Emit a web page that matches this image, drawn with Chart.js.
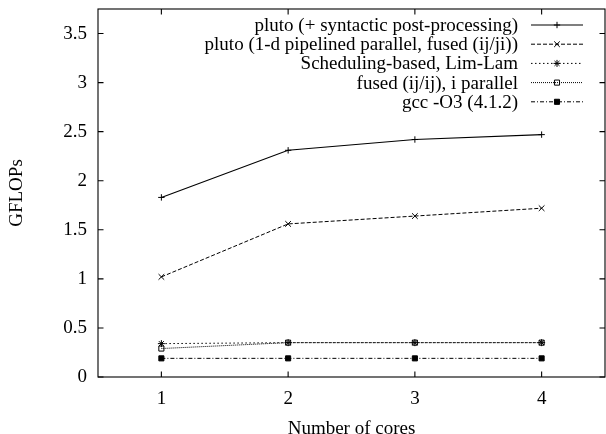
<!DOCTYPE html>
<html>
<head>
<meta charset="utf-8">
<script src="https://cdn.jsdelivr.net/npm/chart.js@4/dist/chart.umd.min.js"></script>
<style>
  html, body { margin: 0; padding: 0; background: #fff; }
  #wrap { width: 606px; height: 434px; }
</style>
</head>
<body>
<div id="wrap"><canvas id="c" width="606" height="434"></canvas></div>
<script>
// ---- data ----
const cores = ['1', '2', '3', '4'];
const seriesNames = [
  'pluto (+ syntactic post-processing)',
  'pluto (1-d pipelined parallel, fused (ij/ji))',
  'Scheduling-based, Lim-Lam',
  'fused (ij/ij), i parallel',
  'gcc -O3 (4.1.2)'
];
const plutoSyntactic = [1.83, 2.31, 2.42, 2.47];
const pluto1d = [1.02, 1.56, 1.64, 1.72];
const limLam = [0.34, 0.35, 0.35, 0.35];
const fusedIParallel = [0.29, 0.35, 0.35, 0.35];
const gccO3 = [0.19, 0.19, 0.19, 0.19];
const yTicks = [0, 0.5, 1, 1.5, 2, 2.5, 3, 3.5];
const yMin = 0, yMax = 3.75;
const xTitle = 'Number of cores';
const yTitle = 'GFLOPs';

const FONT = 'Liberation Serif, Times New Roman, serif';
Chart.defaults.color = '#000';
Chart.defaults.font.family = FONT;

const styles = [
  { dash: [], style: 'cross', r: 3.2, fill: 'rgba(0,0,0,0)', w: 1.1 },
  { dash: [4, 2], style: 'crossRot', r: 4, fill: 'rgba(0,0,0,0)', w: 1 },
  { dash: [1.5, 2.5], style: 'star', r: 3.5, fill: 'rgba(0,0,0,0)', w: 1 },
  { dash: [1, 1], style: 'rect', r: 3.6, fill: 'rgba(0,0,0,0)', w: 1 },
  { dash: [4, 2, 1, 2], style: 'rect', r: 3.6, fill: '#000', w: 1 }
];
const values = [plutoSyntactic, pluto1d, limLam, fusedIParallel, gccO3];

const datasets = values.map((v, i) => ({
  label: seriesNames[i],
  data: v,
  borderColor: '#000',
  backgroundColor: styles[i].fill,
  borderWidth: styles[i].w,
  borderDash: styles[i].dash,
  pointStyle: styles[i].style,
  pointRadius: styles[i].r,
  pointHoverRadius: styles[i].r,
  pointBorderColor: '#000',
  pointBackgroundColor: styles[i].fill,
  pointBorderWidth: 1,
  tension: 0,
  fill: false,
  clip: false
}));

function noPad(scale) {
  scale.paddingTop = 0; scale.paddingBottom = 0;
  scale.paddingLeft = 0; scale.paddingRight = 0;
}

const framePlugin = {
  id: 'frame',
  afterDraw(chart) {
    const { ctx, chartArea: a, scales } = chart;
    ctx.save();
    ctx.strokeStyle = '#000';
    ctx.lineWidth = 1.1;
    ctx.setLineDash([]);
    ctx.strokeRect(a.left, a.top, a.right - a.left, a.bottom - a.top);
    const tl = 5.5;
    ctx.beginPath();
    scales.x.ticks.forEach((t, i) => {
      const x = scales.x.getPixelForTick(i);
      ctx.moveTo(x, a.bottom); ctx.lineTo(x, a.bottom - tl);
      ctx.moveTo(x, a.top); ctx.lineTo(x, a.top + tl);
    });
    scales.y.ticks.forEach((t) => {
      const y = scales.y.getPixelForValue(t.value);
      ctx.moveTo(a.left, y); ctx.lineTo(a.left + tl, y);
      ctx.moveTo(a.right, y); ctx.lineTo(a.right - tl, y);
    });
    ctx.stroke();

    // legend (gnuplot style: text right aligned, sample on the right)
    ctx.font = '19px ' + FONT;
    ctx.textAlign = 'right';
    ctx.textBaseline = 'middle';
    ctx.fillStyle = '#000';
    chart.data.datasets.forEach((ds, i) => {
      const y = a.top + 16 + i * 19.2;
      ctx.fillText(ds.label, a.right - 87, y + 1);
      ctx.save();
      ctx.beginPath();
      ctx.lineWidth = ds.borderWidth;
      ctx.setLineDash(ds.borderDash);
      ctx.moveTo(a.right - 74, y);
      ctx.lineTo(a.right - 22, y);
      ctx.stroke();
      ctx.setLineDash([]);
      ctx.fillStyle = ds.pointBackgroundColor;
      ctx.strokeStyle = '#000';
      ctx.lineWidth = 1;
      Chart.helpers.drawPoint(ctx, {
        pointStyle: ds.pointStyle, radius: ds.pointRadius, rotation: 0, borderWidth: 1
      }, a.right - 48, y);
      ctx.restore();
    });
    ctx.restore();
  }
};

new Chart(document.getElementById('c'), {
  type: 'line',
  data: { labels: cores, datasets },
  options: {
    responsive: false,
    animation: false,
    devicePixelRatio: 1,
    layout: { autoPadding: false, padding: { left: 0, right: 1, top: 9, bottom: 0 } },
    plugins: { legend: { display: false }, tooltip: { enabled: false } },
    scales: {
      x: {
        type: 'category',
        offset: true,
        grid: { display: false, drawTicks: false },
        border: { display: false },
        ticks: { font: { size: 19, family: FONT }, padding: 11, color: '#000' },
        title: { display: true, text: xTitle, font: { size: 19, family: FONT, lineHeight: 0.5 }, padding: { top: 0, bottom: 0 }, color: '#000' },
        afterFit(scale) { scale.height = 57; noPad(scale); }
      },
      y: {
        type: 'linear',
        min: yMin,
        max: yMax,
        grid: { display: false, drawTicks: false },
        border: { display: false },
        afterBuildTicks(scale) { scale.ticks = yTicks.map(v => ({ value: v })); },
        ticks: {
          font: { size: 19, family: FONT }, padding: 11, color: '#000',
          callback: (v) => String(v)
        },
        title: { display: true, text: yTitle, font: { size: 19, family: FONT, lineHeight: 1 }, padding: { top: 7.5, bottom: 0 }, color: '#000' },
        afterFit(scale) { scale.width = 98; noPad(scale); }
      }
    }
  },
  plugins: [framePlugin]
});
</script>
</body>
</html>
